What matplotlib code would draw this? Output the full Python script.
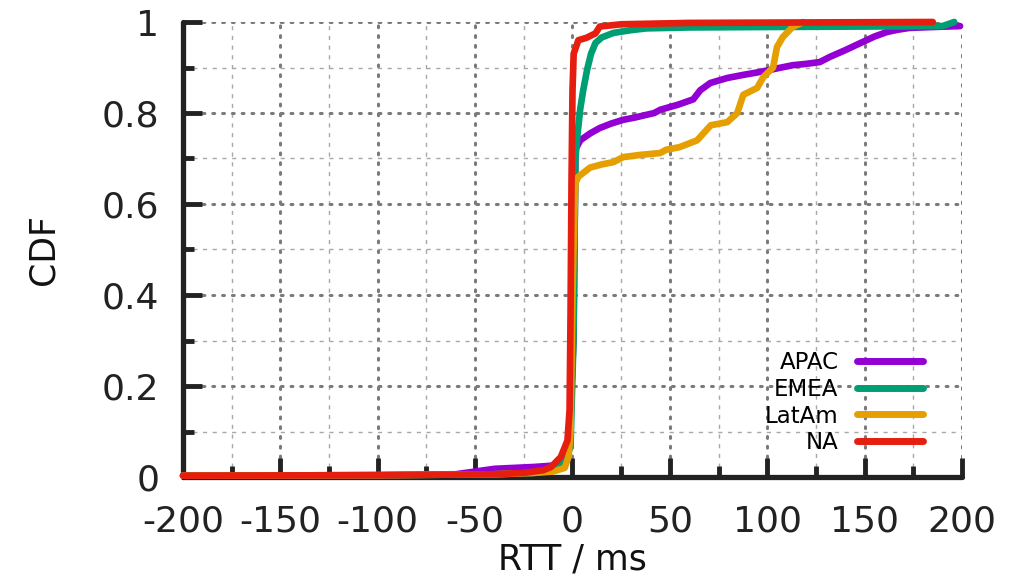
import matplotlib
matplotlib.use("Agg")
import matplotlib.pyplot as plt
from matplotlib.ticker import MultipleLocator

# ---- data ----
series_names = ["APAC", "EMEA", "LatAm", "NA"]
series_colors = ["#9400D3", "#009E73", "#E69F00", "#E51E10"]

apac_x = [-200, -100, -60, -50, -40, -20, -10, -5, -2, 0.5, 1.5, 4, 9, 14, 20, 26, 32, 42, 45,
          54, 62, 65.6, 70.8, 79.5, 88, 96, 105, 113, 120, 127, 132, 140, 148, 155, 161.5, 167,
          173, 185, 199]
apac_y = [0.003, 0.004, 0.006, 0.012, 0.018, 0.022, 0.025, 0.03, 0.05, 0.3, 0.72, 0.74, 0.755,
          0.767, 0.777, 0.785, 0.79, 0.80, 0.807, 0.818, 0.83, 0.85, 0.866, 0.877, 0.884, 0.89,
          0.898, 0.905, 0.908, 0.912, 0.923, 0.938, 0.954, 0.968, 0.978, 0.983, 0.987, 0.989,
          0.991]

emea_x = [-200, -100, -40, -20, -10, -6, -3, -1, 0.5, 1.5, 2.5, 4, 5.5, 7.5, 9.5, 11.8, 15, 21,
          30, 38, 60, 100, 150, 190, 196]
emea_y = [0.003, 0.004, 0.006, 0.009, 0.015, 0.026, 0.04, 0.07, 0.3, 0.70, 0.75, 0.81, 0.85,
          0.895, 0.93, 0.954, 0.966, 0.976, 0.982, 0.986, 0.988, 0.989, 0.99, 0.991, 1.0]

latam_x = [-200, -100, -40, -20, -10, -4, -2, -1, 0, 1, 1.5, 3, 6, 9, 15, 21, 26, 35, 45, 48,
           55, 64, 71, 79.5, 84.6, 87.7, 94.8, 98, 103, 105, 108, 113, 118.5]
latam_y = [0.003, 0.004, 0.006, 0.009, 0.012, 0.02, 0.045, 0.1, 0.4, 0.587, 0.646, 0.66, 0.67,
           0.68, 0.687, 0.692, 0.703, 0.708, 0.712, 0.719, 0.725, 0.74, 0.773, 0.78, 0.80, 0.84,
           0.855, 0.879, 0.90, 0.945, 0.967, 0.989, 1.0]

na_x = [-200, -100, -40, -25, -15, -11, -6, -2.6, -1.5, -1.0, -0.5, 0, 0.6, 3, 7, 11.8, 14, 25,
        60, 120, 185]
na_y = [0.003, 0.004, 0.006, 0.009, 0.015, 0.022, 0.044, 0.08, 0.147, 0.36, 0.65, 0.85, 0.93,
        0.96, 0.965, 0.975, 0.99, 0.995, 0.998, 0.999, 1.0]

x_label = "RTT / ms"
y_label = "CDF"
x_ticks = [-200, -150, -100, -50, 0, 50, 100, 150, 200]
y_ticks = [0, 0.2, 0.4, 0.6, 0.8, 1.0]
y_tick_labels = ["0", "0.2", "0.4", "0.6", "0.8", "1"]

# ---- figure ----
plt.rcParams['font.family'] = ['DejaVu Sans']
plt.rcParams['axes.unicode_minus'] = False
fig = plt.figure(figsize=(10.2, 5.85), dpi=100)
ax = fig.add_axes([183 / 1020, 1 - 477 / 585, (962 - 183) / 1020, (477 - 22) / 585])

xs = [apac_x, emea_x, latam_x, na_x]
ys = [apac_y, emea_y, latam_y, na_y]
for name, c, x, y in zip(series_names, series_colors, xs, ys):
    ax.plot(x, y, color=c, lw=4.8, label=name, solid_capstyle='round',
            solid_joinstyle='round', clip_on=False, zorder=3)

ax.set_xlim(-200, 200)
ax.set_ylim(0, 1)
ax.set_xticks(x_ticks)
ax.set_yticks(y_ticks)
ax.set_yticklabels(y_tick_labels)
ax.xaxis.set_minor_locator(MultipleLocator(25))
ax.yaxis.set_minor_locator(MultipleLocator(0.1))

for s in ["top", "right"]:
    ax.spines[s].set_visible(False)
for s in ["left", "bottom"]:
    ax.spines[s].set_linewidth(3.8)
    ax.spines[s].set_color("#222222")
    ax.spines[s].set_capstyle('round')
    ax.spines[s].set_zorder(2)

ax.tick_params(which='major', direction='in', length=14, width=3.5, color="#222222",
               labelsize=26, pad=17, labelcolor="#222222")
ax.tick_params(which='minor', direction='in', length=8, width=3.5, color="#222222")
ax.tick_params(axis='x', which='major', pad=20)

ax.grid(which='major', color="#7a7a7a", linestyle=(0, (0.6, 2.6)), linewidth=2.2,
        dash_capstyle='round', zorder=0)
ax.grid(which='minor', color="#a8a8a8", linestyle=(0, (3, 4)), linewidth=1.0, zorder=0)
ax.set_axisbelow(True)

ax.set_xlabel(x_label, fontsize=25, color="#111111", labelpad=3)
ax.set_ylabel(y_label, fontsize=25, color="#111111", labelpad=30)

leg = ax.legend(loc='lower right', bbox_to_anchor=(0.962, 0.03), frameon=False,
                fontsize=16.5, markerfirst=False, handlelength=2.9, handletextpad=0.8,
                labelspacing=0.16, borderaxespad=0)
for t in leg.get_texts():
    t.set_ha('right')
leg._legend_box.align = "right"
for h in leg.legend_handles:
    h.set_linewidth(5)

fig.savefig("out.png", dpi=100)
